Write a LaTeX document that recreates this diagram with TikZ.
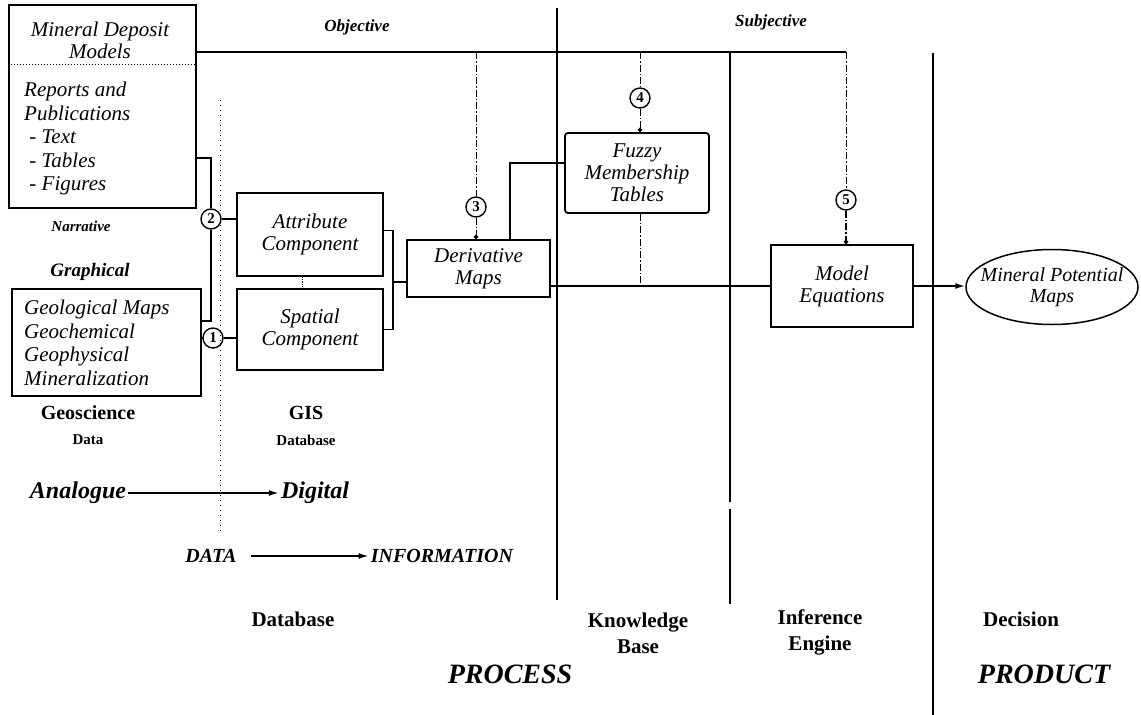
\documentclass[tikz,border=0pt]{standalone}
\usepackage{fontspec}
\setmainfont{Liberation Serif}
\usetikzlibrary{shapes.geometric,arrows.meta}

\tikzset{
  boxline/.style={line width=1.8pt},
  blk/.style={draw, boxline, inner sep=0pt},
  heavy/.style={line width=2.2pt},
  divider/.style={line width=2.7pt},
  dashdot/.style={line width=0.9pt, dash pattern=on 7pt off 2pt on 1.5pt off 2pt},
  num/.style={circle, draw, line width=1.4pt, minimum size=20pt, inner sep=0pt,
              font=\fontsize{15}{15}\selectfont\bfseries},
  boxtxt/.style={font=\fontsize{21}{22}\selectfont\itshape, align=center},
  listtxt/.style={font=\fontsize{21}{23.5}\selectfont\itshape, align=left, anchor=north west, inner sep=0pt},
  tag/.style={font=\fontsize{#1}{#1}\selectfont\bfseries\itshape},
  tag/.default=17,
  head/.style={font=\fontsize{21}{26}\selectfont\bfseries, align=center},
  big/.style={font=\fontsize{28}{28}\selectfont\bfseries\itshape},
  dottip/.style={-{Circle[length=4.5pt]}},
  arr/.style={line width=1.6pt, -{Latex[length=10pt,width=6pt]}},
}

\begin{document}
\begin{tikzpicture}[x=1pt, y=-1pt]
\useasboundingbox (0,0) rectangle (1141,715);

% ---- source boxes ----
\node[blk, minimum width=187pt, minimum height=203pt] (src) at (102.5,106.5) {};
\draw[line width=1pt, dotted] (src.west |- 0,64) -- (src.east |- 0,64);
\node[boxtxt] (mdm) at (100,40) {Mineral Deposit\\Models};
\node[listtxt] (rep) at (24,82) {Reports and\\Publications\\\ - Text\\\ - Tables\\\ - Figures};

\node[blk, minimum width=189pt, minimum height=107pt] (geo) at (106.5,342.5) {};
\node[listtxt] (geotxt) at (24,300) {Geological Maps\\Geochemical\\Geophysical\\Mineralization};

% ---- GIS database components ----
\node[blk, minimum width=146pt, minimum height=83pt, boxtxt] (attr) at (310,234.5) {Attribute\\Component};
\node[blk, minimum width=146pt, minimum height=81pt, boxtxt] (spat) at (310,329.5) {Spatial\\Component};

% ---- processing boxes ----
\node[blk, minimum width=143pt, minimum height=57pt, boxtxt] (der) at (478.5,268.5) {Derivative\\Maps};
\node[blk, rounded corners=3pt, minimum width=144pt, minimum height=80pt, boxtxt] (fuz) at (637,173) {Fuzzy\\Membership\\Tables};
\node[blk, minimum width=142pt, minimum height=82pt, boxtxt] (meq) at (842,286) {Model\\Equations};
\node[ellipse, draw, line width=1.5pt, minimum width=172pt, minimum height=75pt, boxtxt,
      font=\fontsize{20}{21}\selectfont\itshape, inner sep=-30pt] (mpm) at (1052,287) {Mineral Potential\\Maps};

% ---- numbered steps ----
\node[num] (c1) at (213,338) {1};
\node[num] (c2) at (211,219) {2};
\node[num] (c3) at (476,207) {3};
\node[num] (c4) at (640,98) {4};
\node[num] (c5) at (846,200) {5};

% ---- stage dividers ----
\coordinate (topR) at (846,52);
\draw[divider] (557,8) -- (557,600);
\draw[divider] (730,52) -- (730,502);
\draw[divider] (730,509) -- (730,604);
\draw[divider] (933,53) -- (933,715);
\draw[line width=1pt, dash pattern=on 1pt off 4pt] (220,100) -- (220,533);

% ---- connectors ----
\draw[heavy] ([yshift=54.5pt]src.east) -- (topR);
\draw[boxline] ([yshift=-51.5pt]src.east) -| (c2.north);
\draw[boxline] (c2.east) -- (c2.east -| attr.west);
\draw[boxline] ([yshift=21.5pt]geo.east) -| (c2.south);
\draw[boxline] (geo.east |- c1) -- (c1.west);
\draw[heavy] (c1.east) -- (c1 -| spat.west);
\draw[line width=0.8pt, densely dotted] ([xshift=-8pt]attr.south) -- ([xshift=-8pt]spat.north);

\coordinate (brk) at (393,282);
\draw[boxline] ([yshift=4pt]attr.east) -| (brk) |- (spat.east);
\draw[boxline] (brk) -- (brk -| der.west);

\draw[dashdot] (c3 |- topR) -- (c3.north);
\draw[dashdot, dottip] (c3.south) -- (c3.south |- der.north);
\draw[boxline] ([xshift=31.5pt]der.north) |- ([yshift=10pt]fuz.west);

\draw[dashdot] (c4 |- topR) -- (c4.north);
\draw[dashdot, dottip] (c4.south) -- (c4.south |- fuz.north);
\draw[dashdot] (c4 |- fuz.south) -- (c4 |- meq.west);

\draw[dashdot] (topR) -- (c5.north);
\draw[dashdot, line width=1.2pt, dottip] (c5.south) -- (c5.south |- meq.north);

\draw[heavy] (der.east |- meq.west) -- (meq.west);
\draw[arr] (meq.east) -- (meq.east -| mpm.west);

% ---- labels ----
\node[tag] (obj) at (357,27) {Objective};
\node[tag] (subj) at (771,22) {Subjective};
\node[tag=15] (narr) at (81,226) {Narrative};
\node[tag=19] (graph) at (90,272) {Graphical};
\node[head, font=\fontsize{20}{26}\selectfont\bfseries] (geos) at (88,413) {Geoscience};
\node[head, font=\fontsize{15}{15}\selectfont\bfseries] (gdata) at (88,440) {Data};
\node[head, font=\fontsize{20}{26}\selectfont\bfseries] (gis) at (306,413) {GIS};
\node[head, font=\fontsize{15}{15}\selectfont\bfseries] (gdb) at (306,440) {Database};

\node[tag=24, inner sep=2pt] (ana) at (78,493) {Analogue};
\node[tag=24, inner sep=2pt] (dig) at (315,493) {Digital};
\draw[arr] (ana.east) -- (dig.west);
\node[tag=20, inner sep=2pt] (dat) at (211,556) {DATA};
\node[tag=20, inner sep=2pt] (inf) at (442,556) {INFORMATION};
\draw[arr] ([xshift=12pt]dat.east) -- (inf.west);

\node[head] (hdb) at (293,619) {Database};
\node[head] (hkb) at (638,633) {Knowledge\\Base};
\node[head] (hie) at (820,632) {Inference\\Engine};
\node[head] (hdec) at (1021,619) {Decision};
\node[big] (proc) at (510,674) {PROCESS};
\node[big] (prod) at (1044,674) {PRODUCT};
\end{tikzpicture}
\end{document}
